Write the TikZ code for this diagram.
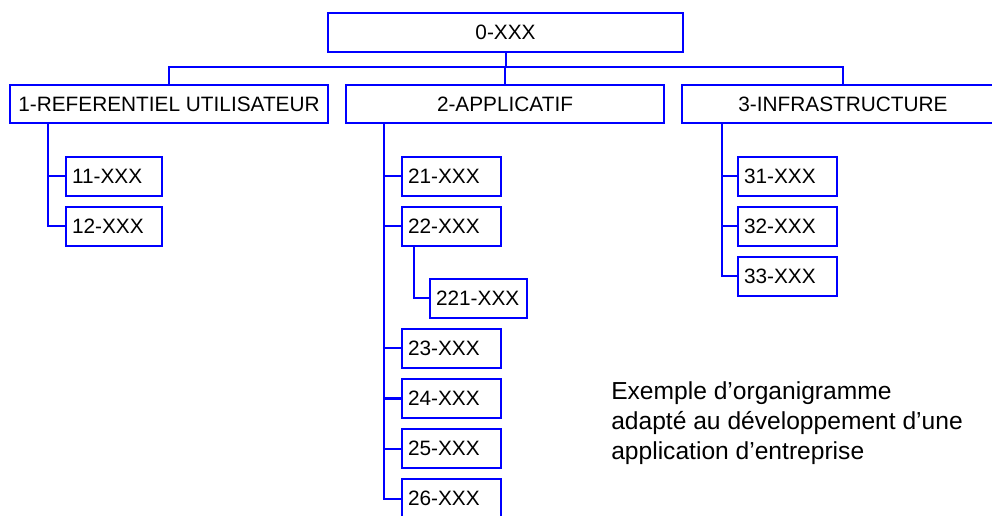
\documentclass[tikz,border=0pt]{standalone}
\usepackage{fontspec}
\setmainfont{Liberation Sans}
\begin{document}
\begin{tikzpicture}[x=0.75pt,y=-0.75pt,
  conn/.style={draw=blue,line width=1.5pt},
  boxbase/.style={draw=blue,line width=1.5pt,inner sep=0pt,fill=white,
    font=\fontsize{15.6}{18}\selectfont},
  topbox/.style={boxbase,minimum width=#1,minimum height=29.25pt},
  lvlbox/.style={boxbase,minimum width=#1,minimum height=28.5pt},
  child/.style={boxbase,text width=#1,inner xsep=4.5pt,align=left,minimum height=29.25pt},
  note/.style={font=\fontsize{18.45}{22.2}\selectfont,align=left,inner sep=0pt}]
\useasboundingbox (0,0) rectangle (992,516);
\clip (0,0) rectangle (992,516);
\fill[white] (0,0) rectangle (992,516);

% nodes
\node[topbox=266.25pt] (top) at (505.5,32.5) {0-XXX};
\node[lvlbox=238.5pt] (b1) at (169,104) {1-REFERENTIEL UTILISATEUR};
\node[lvlbox=238.5pt] (b2) at (505,104) {2-APPLICATIF};
\node[lvlbox=241.5pt] (b3) at (843,104) {3-INFRASTRUCTURE};

\node[child=63pt] (c11) at (114,176.5) {11-XXX};
\node[child=63pt] (c12) at (114,226.5) {12-XXX};

\node[child=65.25pt] (c21) at (451.5,176.5) {21-XXX};
\node[child=65.25pt] (c22) at (451.5,226.5) {22-XXX};
\node[child=63.75pt] (c221) at (478.5,298.5) {221-XXX};
\node[child=65.25pt] (c23) at (451.5,348.5) {23-XXX};
\node[child=65.25pt] (c24) at (451.5,398.5) {24-XXX};
\node[child=65.25pt] (c25) at (451.5,448.5) {25-XXX};
\node[child=65.25pt] (c26) at (451.5,498.5) {26-XXX};

\node[child=65.25pt] (c31) at (787.5,176.5) {31-XXX};
\node[child=65.25pt] (c32) at (787.5,226.5) {32-XXX};
\node[child=65.25pt] (c33) at (787.5,276.5) {33-XXX};

\node[note,anchor=base west] (note) at (611,459) {Exemple d’organigramme\\adapté au développement d’une\\application d’entreprise};

% connectors
\coordinate (bus) at (0,67);
\draw[conn] (top.south) -- (top.south |- bus);
\draw[conn] (b1.north) -- (b1.north |- bus) -| (b3.north);
\draw[conn] (b2.north) -- (b2.north |- bus);

\coordinate (v1) at (48,123);
\draw[conn] (v1) |- (c11.west);
\draw[conn] (v1) |- (c12.west);

\coordinate (v2) at (384,123);
\draw[conn] (v2) |- (c21.west);
\draw[conn] (v2) |- (c22.west);
\draw[conn] (v2) |- (c23.west);
\draw[conn] (v2) |- (c24.west);
\draw[conn] (v2) |- (c25.west);
\draw[conn] (v2) |- (c26.west);

\coordinate (v22) at (414,246);
\draw[conn] (v22) |- (c221.west);

\coordinate (v3) at (722,123);
\draw[conn] (v3) |- (c31.west);
\draw[conn] (v3) |- (c32.west);
\draw[conn] (v3) |- (c33.west);
\end{tikzpicture}
\end{document}
